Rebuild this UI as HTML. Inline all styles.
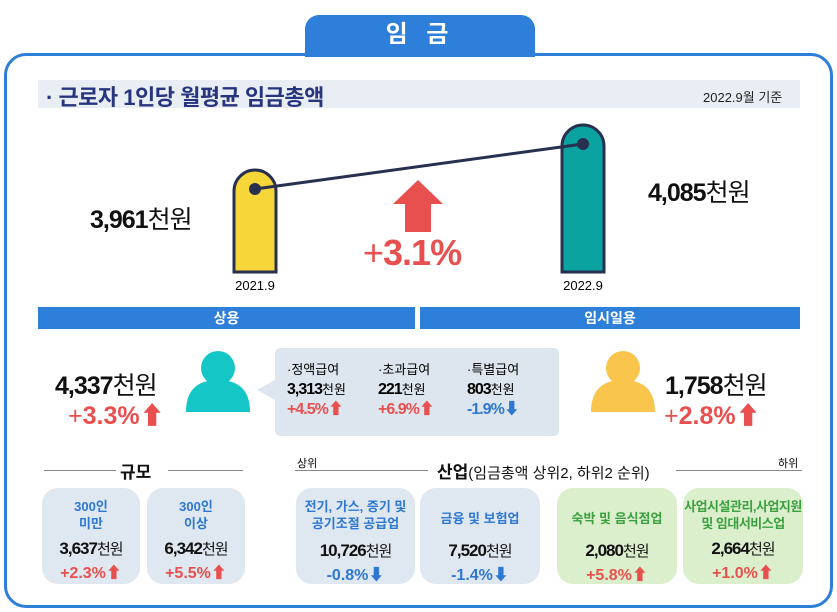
<!DOCTYPE html>
<html><head><meta charset="utf-8">
<style>
*{margin:0;padding:0;box-sizing:border-box}
body{width:837px;height:612px;background:#fff;font-family:"Liberation Sans","Noto Sans CJK KR",sans-serif;position:relative;overflow:hidden}
.a{position:absolute}
.tab{left:305px;top:15px;width:230px;height:42px;background:#2e7fd9;border-radius:14px 14px 0 0;color:#fff;font-size:24px;font-weight:bold;text-align:center;line-height:40px;letter-spacing:6px}
.box{left:4px;top:53px;width:829px;height:555px;border:3px solid #2e7fd9;border-radius:22px}
.band{left:38px;top:80px;width:762px;height:28px;background:#e9eef5}
.ttl{left:46px;top:80px;font-size:22px;font-weight:bold;color:#27357e;letter-spacing:-0.5px}
.hdr{height:22px;background:#2e7fd9;color:#fff;font-weight:bold;font-size:14px;text-align:center;line-height:22px}
.big{font-size:25px;font-weight:bold;color:#111;letter-spacing:-1px}
.big span{font-weight:normal}
.red{color:#e8504f}.blue{color:#2e78d0}.green{color:#3aa040}
.card{top:488px;height:96px;border-radius:16px;text-align:center}
.cb{background:#dfe7f1}.cg{background:#dcefcc}
.ct{font-size:13px;font-weight:bold;line-height:17px}
.cv{font-size:17px;font-weight:bold;color:#111;letter-spacing:-1px}
.cv span{font-weight:normal;font-size:15px}
.cp{font-size:16px;font-weight:bold}
.sec{font-size:17px;font-weight:bold;color:#111}
.line{height:1px;background:#888}
.sub{font-size:13px;line-height:20px}
.sub b{font-size:16px;letter-spacing:-1px}
</style></head><body>
<div class="a tab">임 금</div>
<div class="a box"></div>
<div class="a band"></div>
<div class="a ttl">· 근로자 1인당 월평균 임금총액</div>
<div class="a" style="left:703px;top:87px;font-size:13px;color:#222">2022.9월 기준</div>

<svg class="a" style="left:0;top:110px" width="837" height="190">
<g id="bars"></g>
</svg>
<div class="a big" style="left:90px;top:200px">3,961<span>천원</span></div>
<div class="a big" style="left:648px;top:173px">4,085<span>천원</span></div>
<svg class="a" style="left:393px;top:180px" width="50" height="52"><polygon points="25,0 50,24 38,24 38,52 12,52 12,24 0,24" fill="#e8504f"/></svg>
<div class="a red" style="left:363px;top:232px;font-size:36px;font-weight:bold;letter-spacing:-1px"><span style="font-weight:normal">+</span>3.1%</div>

<div class="a hdr" style="left:38px;top:307px;width:377px">상용</div>
<div class="a hdr" style="left:420px;top:307px;width:380px">임시일용</div>

<div class="a big" style="left:55px;top:366px">4,337<span>천원</span></div>
<div class="a red" style="left:68px;top:396px;font-size:25px;font-weight:bold"><span style="font-weight:normal">+</span>3.3%⬆</div>
<svg class="a" style="left:183px;top:350px" width="70" height="62"><circle cx="35" cy="18" r="17" fill="#15c6c6"/><path d="M3,62 Q3,30 35,30 Q67,30 67,62Z" fill="#15c6c6"/></svg>
<svg class="a" style="left:257px;top:348px" width="302" height="88"><path d="M18,6 Q18,0 24,0 L296,0 Q302,0 302,6 L302,82 Q302,88 296,88 L24,88 Q18,88 18,82 L18,52 L0,42 L18,32Z" fill="#dde6ef"/></svg>
<div class="a sub" style="left:287px;top:360px">·정액급여<br><b>3,313</b>천원<br><b class="red">+4.5%⬆</b></div>
<div class="a sub" style="left:378px;top:360px">·초과급여<br><b>221</b>천원<br><b class="red">+6.9%⬆</b></div>
<div class="a sub" style="left:467px;top:360px">·특별급여<br><b>803</b>천원<br><b class="blue">-1.9%⬇</b></div>
<svg class="a" style="left:588px;top:350px" width="70" height="62"><circle cx="35" cy="18" r="17" fill="#f9c54d"/><path d="M3,62 Q3,30 35,30 Q67,30 67,62Z" fill="#f9c54d"/></svg>
<div class="a big" style="left:665px;top:366px">1,758<span>천원</span></div>
<div class="a red" style="left:664px;top:396px;font-size:25px;font-weight:bold"><span style="font-weight:normal">+</span>2.8%⬆</div>

<div class="a line" style="left:44px;top:470px;width:72px"></div>
<div class="a line" style="left:168px;top:470px;width:75px"></div>
<div class="a sec" style="left:120px;top:458px">규모</div>
<div class="a line" style="left:295px;top:470px;width:133px"></div>
<div class="a line" style="left:676px;top:470px;width:126px"></div>
<div class="a" style="left:297px;top:455px;font-size:11px">상위</div>
<div class="a" style="left:778px;top:455px;font-size:11px">하위</div>
<div class="a sec" style="left:437px;top:458px">산업<span style="font-weight:normal;font-size:15px">(임금총액 상위2, 하위2 순위)</span></div>

<div class="a card cb" style="left:42px;width:98px"><div class="ct blue" style="margin-top:10px">300인<br>미만</div><div class="cv" style="margin-top:6px">3,637<span>천원</span></div><div class="cp red">+2.3%⬆</div></div>
<div class="a card cb" style="left:147px;width:98px"><div class="ct blue" style="margin-top:10px">300인<br>이상</div><div class="cv" style="margin-top:6px">6,342<span>천원</span></div><div class="cp red">+5.5%⬆</div></div>
<div class="a card cb" style="left:296px;width:119px"><div class="ct blue" style="margin-top:10px">전기, 가스, 증기 및<br>공기조절 공급업</div><div class="cv" style="margin-top:8px">10,726<span>천원</span></div><div class="cp blue">-0.8%⬇</div></div>
<div class="a card cb" style="left:420px;width:120px"><div class="ct blue" style="margin-top:22px">금융 및 보험업</div><div class="cv" style="margin-top:13px">7,520<span>천원</span></div><div class="cp blue">-1.4%⬇</div></div>
<div class="a card cg" style="left:557px;width:120px"><div class="ct green" style="margin-top:22px">숙박 및 음식점업</div><div class="cv" style="margin-top:13px">2,080<span>천원</span></div><div class="cp red">+5.8%⬆</div></div>
<div class="a card cg" style="left:683px;width:120px"><div class="ct green" style="margin-top:10px;letter-spacing:-0.5px">사업시설관리,사업지원<br>및 임대서비스업</div><div class="cv" style="margin-top:6px">2,664<span>천원</span></div><div class="cp red">+1.0%⬆</div></div>

<script>
const periods = ["2021.9", "2022.9"];
const wages = [3961, 4085];
const barColors = ["#f7d63a", "#0aa3a0"];
const NS = "http://www.w3.org/2000/svg";
const g = document.getElementById("bars");
const base = 162;
const xPos = i => 255 + i * 328;
const hScale = v => (v - 3680) * 147 / 405;
const pts = [];
wages.forEach((v, i) => {
  const cx = xPos(i), h = hScale(v), top = base - h, w = 42, r = w / 2;
  const p = document.createElementNS(NS, "path");
  p.setAttribute("d", `M${cx-r},${base} L${cx-r},${top+r} A${r},${r} 0 0 1 ${cx+r},${top+r} L${cx+r},${base}Z`);
  p.setAttribute("fill", barColors[i]);
  p.setAttribute("stroke", "#27304f");
  p.setAttribute("stroke-width", "3");
  
  
  g.appendChild(p);
  pts.push([cx, top + 19]);
  const t = document.createElementNS(NS, "text");
  t.setAttribute("x", cx); t.setAttribute("y", base + 18);
  t.setAttribute("text-anchor", "middle"); t.setAttribute("font-size", "13");
  t.setAttribute("font-family", "Liberation Sans, sans-serif");
  t.textContent = periods[i];
  
  
  g.appendChild(t);
});
const ln = document.createElementNS(NS, "line");
ln.setAttribute("x1", pts[0][0]); ln.setAttribute("y1", pts[0][1]);
ln.setAttribute("x2", pts[1][0]); ln.setAttribute("y2", pts[1][1]);
ln.setAttribute("stroke", "#27304f"); ln.setAttribute("stroke-width", "3");


g.appendChild(ln);
pts.forEach(pt => {
  const c = document.createElementNS(NS, "circle");
  c.setAttribute("cx", pt[0]); c.setAttribute("cy", pt[1]); c.setAttribute("r", "6");
  c.setAttribute("fill", "#27304f");
  
  
  g.appendChild(c);
});
</script>
</body></html>
